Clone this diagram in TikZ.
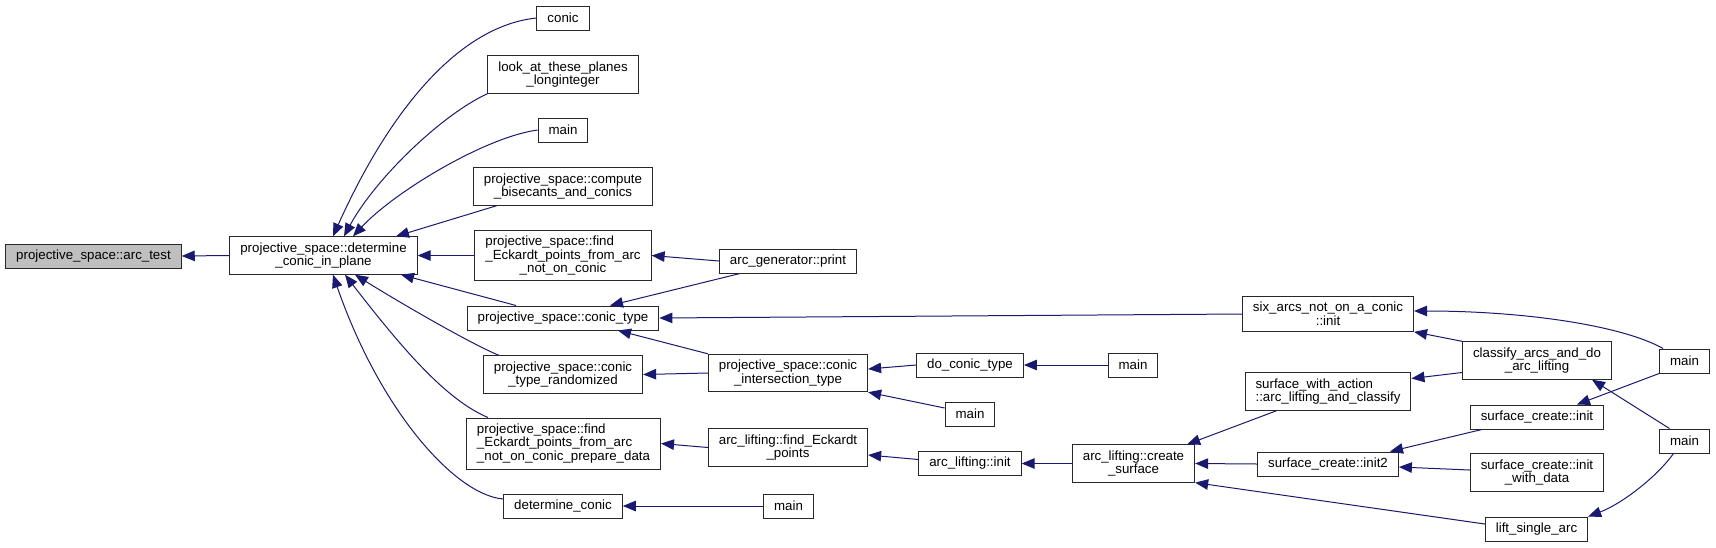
\documentclass[tikz,border=0pt]{standalone}
\usepackage{fontspec}
\setmainfont{Liberation Sans}
\usepackage{calc}
\usetikzlibrary{arrows.meta}
\definecolor{edgeblue}{RGB}{25,25,112}
\definecolor{rootgray}{RGB}{191,191,191}
\definecolor{boxline}{RGB}{40,40,40}
\newcommand{\padto}[2]{\makebox[\widthof{#2}][l]{#1}}
\tikzset{
    fn/.style={
        draw=boxline, line width=1pt, fill=white,
        align=center, inner xsep=10.5pt, inner ysep=5.7pt,
        minimum height=24pt,
        font=\fontsize{13.3}{13.6}\selectfont
    },
    root/.style={fn, fill=rootgray},
    call/.style={
        draw=edgeblue, line width=1pt,
        -{Triangle[length=13pt,width=10.5pt]}
    }
}
\begin{document}
\begin{tikzpicture}[x=1pt,y=-1pt]
    \useasboundingbox (0,0) rectangle (1716,547);
    % functions
    \node[root] (arctest) at (93.5,256) {projective\_space::arc\_test};
    \node[fn] (detplane) at (323.5,255.5) {projective\_space::determine\\\_conic\_in\_plane};
    \node[fn] (conic) at (563,18) {conic};
    \node[fn] (lookat) at (563,74.5) {look\_at\_these\_planes\\\_longinteger};
    \node[fn] (maina) at (563,130) {main};
    \node[fn] (compute) at (563,186.5) {projective\_space::compute\\\_bisecants\_and\_conics};
    \node[fn] (findeck) at (563,255.5) {\padto{projective\_space::find}{\_Eckardt\_points\_from\_arc}\\\_Eckardt\_points\_from\_arc\\\_not\_on\_conic};
    \node[fn] (conictype) at (563,318) {projective\_space::conic\_type};
    \node[fn] (conicrand) at (563,374.5) {projective\_space::conic\\\_type\_randomized};
    \node[fn] (prepdata) at (563.5,443.5) {\padto{projective\_space::find}{\_not\_on\_conic\_prepare\_data}\\\padto{\_Eckardt\_points\_from\_arc}{\_not\_on\_conic\_prepare\_data}\\\_not\_on\_conic\_prepare\_data};
    \node[fn] (detconic) at (563,506) {determine\_conic};
    \node[fn] (arcprint) at (788,261) {arc\_generator::print};
    \node[fn] (conicint) at (788,373) {projective\_space::conic\\\_intersection\_type};
    \node[fn] (alfind) at (788,447.5) {arc\_lifting::find\_Eckardt\\\_points};
    \node[fn] (mainf) at (788.5,506) {main};
    \node[fn] (doconic) at (970,365) {do\_conic\_type};
    \node[fn] (mainc) at (970,414) {main};
    \node[fn] (alinit) at (970,463.5) {arc\_lifting::init};
    \node[fn] (mainb) at (1133,365) {main};
    \node[fn] (alcreate) at (1133.5,463.5) {arc\_lifting::create\\\_surface};
    \node[fn] (sixinit) at (1328,314) {six\_arcs\_not\_on\_a\_conic\\::init};
    \node[fn] (swaction) at (1328,391.5) {\padto{surface\_with\_action}{::arc\_lifting\_and\_classify}\\::arc\_lifting\_and\_classify};
    \node[fn] (scinittwo) at (1328,464) {surface\_create::init2};
    \node[fn] (classify) at (1537,360.5) {classify\_arcs\_and\_do\\\_arc\_lifting};
    \node[fn] (scinit) at (1537,417) {surface\_create::init};
    \node[fn] (scdata) at (1537,472.5) {surface\_create::init\\\_with\_data};
    \node[fn] (liftarc) at (1536.5,529) {lift\_single\_arc};
    \node[fn] (maind) at (1684.5,361) {main};
    \node[fn] (maine) at (1684.5,441) {main};
    % calls
    \draw[call] (detplane.west) -- (arctest.east);
    \draw[call] (conic.west) .. controls +(-77,8) and +(57,-127) .. ([xshift=9.5pt]detplane.north);
    \draw[call] (lookat.south west) .. controls +(-47,22) and +(31,-57) .. ([xshift=20.5pt]detplane.north);
    \draw[call] (maina.west) .. controls +(-52,7) and +(42,-45) .. ([xshift=29.5pt]detplane.north);
    \draw[call] ([xshift=24pt]compute.south west) -- ([xshift=72.5pt]detplane.north);
    \draw[call] (findeck.west) -- (detplane.east);
    \draw[call] ([xshift=-47pt]conictype.north) -- ([xshift=77.5pt]detplane.south);
    \draw[call] ([xshift=16pt]conicrand.north west) .. controls +(-29,-12) and +(45,28) .. ([xshift=31.5pt]detplane.south);
    \draw[call] ([xshift=22pt]prepdata.north west) .. controls +(-43,-18) and +(55,71) .. ([xshift=21.5pt]detplane.south);
    \draw[call] ([yshift=7pt]detconic.west) .. controls +(-48,-4) and +(47,136) .. ([xshift=9.5pt]detplane.south);
    \draw[call] (arcprint.west) -- (findeck.east);
    \draw[call] ([xshift=21pt]arcprint.south west) -- ([xshift=47pt]conictype.north);
    \draw[call] (sixinit.west) -- (conictype.east);
    \draw[call] (conicint.north west) -- ([xshift=55pt]conictype.south);
    \draw[call] (conicint.west) -- (conicrand.east);
    \draw[call] (doconic.west) -- ([yshift=4pt]conicint.east);
    \draw[call] (mainb.west) -- (doconic.east);
    \draw[call] ([yshift=6pt]mainc.west) -- (conicint.south east);
    \draw[call] (alfind.west) -- (prepdata.east);
    \draw[call] ([yshift=4pt]alinit.west) -- ([yshift=-7.5pt]alfind.east);
    \draw[call] (alcreate.west) -- (alinit.east);
    \draw[call] (mainf.west) -- (detconic.east);
    \draw[call] ([xshift=32pt]swaction.south west) -- ([xshift=-8pt]alcreate.north east);
    \draw[call] (scinittwo.west) -- (alcreate.east);
    \draw[call] ([yshift=5pt]liftarc.west) -- (alcreate.south east);
    \draw[call] (classify.north west) -- (sixinit.south east);
    \draw[call] ([yshift=-12pt]classify.west) -- ([yshift=13pt]swaction.east);
    \draw[call] ([xshift=4pt]maind.north west) .. controls +(-43,-24) and +(106,0) .. ([yshift=3pt]sixinit.east);
    \draw[call] (maind.south west) -- ([xshift=40pt]scinit.north);
    \draw[call] ([xshift=-15pt]maine.north) -- ([xshift=55pt]classify.south);
    \draw[call] ([xshift=-11pt]maine.south) .. controls +(-18,25) and +(32,-12) .. (liftarc.north east);
    \draw[call] ([xshift=12pt]scinit.south west) -- ([xshift=62pt]scinittwo.north);
    \draw[call] ([yshift=2.5pt]scdata.west) -- ([yshift=-3pt]scinittwo.east);
\end{tikzpicture}
\end{document}
